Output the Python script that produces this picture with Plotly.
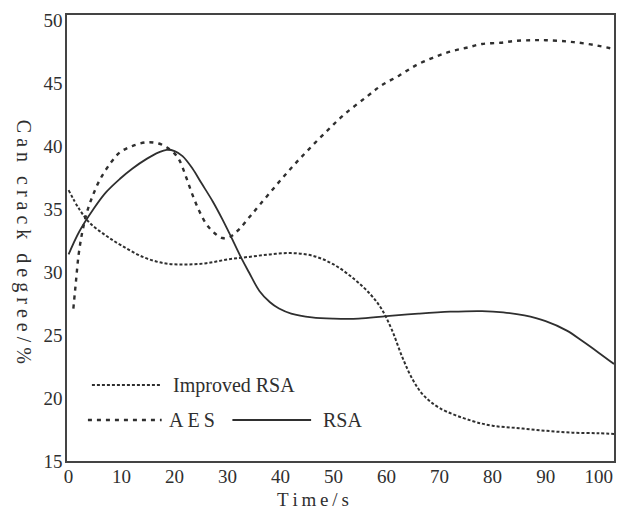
import plotly.graph_objects as go

# ---- data ----
improved_x = [0, 2, 4, 7, 10, 14, 18, 22, 26, 30, 34, 38, 42, 46, 50, 54, 57, 59, 61, 63, 65, 67, 70, 76, 80, 85, 90, 95, 100, 102.9]
improved_y = [36.5, 35.0, 33.9, 32.9, 32.1, 31.2, 30.7, 30.6, 30.7, 31.0, 31.2, 31.4, 31.5, 31.3, 30.6, 29.4, 28.2, 27.1, 25.4, 23.2, 21.4, 20.2, 19.2, 18.2, 17.8, 17.6, 17.4, 17.25, 17.2, 17.15]

rsa_x = [0, 2, 4.7, 7, 9.7, 12, 14.8, 17, 18.5, 20, 21.5, 23.4, 25, 27.2, 29, 30.3, 32.6, 34, 36, 38, 39.7, 42, 45.9, 50, 54.7, 60, 66, 72, 78, 82, 86, 90, 94, 97, 100, 102.9]
rsa_y = [31.4, 33.2, 35.0, 36.3, 37.4, 38.2, 39.0, 39.5, 39.7, 39.6, 39.2, 38.2, 37.1, 35.6, 34.2, 33.1, 31.1, 30.0, 28.5, 27.6, 27.1, 26.7, 26.4, 26.3, 26.3, 26.5, 26.7, 26.85, 26.9, 26.8, 26.55, 26.1, 25.35, 24.5, 23.6, 22.7]

aes_x = [0.9, 1.4, 1.9, 2.6, 3.5, 4.5, 6, 8, 9.7, 12, 14.8, 17, 18.5, 20, 21, 22.2, 23.4, 24.7, 26, 27.5, 29, 30.5, 32.2, 34, 36, 39, 42.1, 45, 48.5, 52, 56.2, 59, 62.4, 65.5, 68.7, 72, 75.1, 78, 81.5, 84.5, 87.6, 90, 94, 98, 102.9]
aes_y = [27.1, 29.3, 31.4, 33.2, 34.8, 36.0, 37.4, 38.7, 39.5, 40.0, 40.3, 40.2, 39.9, 39.4, 38.8, 37.5, 36.1, 34.8, 33.8, 33.1, 32.7, 32.8, 33.4, 34.3, 35.3, 36.8, 38.3, 39.6, 41.1, 42.5, 43.9, 44.8, 45.6, 46.4, 47.0, 47.5, 47.8, 48.1, 48.2, 48.35, 48.4, 48.4, 48.3, 48.1, 47.7]

x_ticks = [0, 10, 20, 30, 40, 50, 60, 70, 80, 90, 100]
y_ticks = [15, 20, 25, 30, 35, 40, 45, 50]

INK = "#2f2f2f"
FONT = "Liberation Serif, Times New Roman, Times, serif"
TS = "\u2009"   # thin space for letter spacing
LS = "\u2005"   # four-per-em space for the y title
WS = "\u2002\u2009"

fig = go.Figure()
fig.add_trace(go.Scatter(x=improved_x, y=improved_y, mode="lines", name="Improved RSA",
                         line=dict(color=INK, width=2, dash="3px,2px", shape="spline", smoothing=1.0)))
fig.add_trace(go.Scatter(x=aes_x, y=aes_y, mode="lines", name="AES",
                         line=dict(color=INK, width=2.4, dash="4px,5px", shape="spline", smoothing=1.0)))
fig.add_trace(go.Scatter(x=rsa_x, y=rsa_y, mode="lines", name="RSA",
                         line=dict(color=INK, width=1.8, shape="spline", smoothing=1.0)))

# legend drawn as shapes + text (paper coordinates)
def px_x(p):
    return (p - 67) / 549.0

def px_y(p):
    return (461 - p) / 446.0

shapes = [
    dict(type="line", xref="paper", yref="paper", x0=px_x(92), x1=px_x(162), y0=px_y(385), y1=px_y(385),
         line=dict(color=INK, width=2, dash="3px,2px")),
    dict(type="line", xref="paper", yref="paper", x0=px_x(88), x1=px_x(162), y0=px_y(420), y1=px_y(420),
         line=dict(color=INK, width=2.4, dash="4px,5px")),
    dict(type="line", xref="paper", yref="paper", x0=px_x(233), x1=px_x(312), y0=px_y(420), y1=px_y(420),
         line=dict(color=INK, width=1.8)),
]
annotations = [
    dict(text="Improved RSA", xref="paper", yref="paper", x=px_x(171), y=px_y(385), xanchor="left", yanchor="middle",
         showarrow=False, font=dict(family=FONT, size=20, color=INK)),
    dict(text=TS.join("AES"), xref="paper", yref="paper", x=px_x(167), y=px_y(420), xanchor="left", yanchor="middle",
         showarrow=False, font=dict(family=FONT, size=20, color=INK)),
    dict(text="RSA", xref="paper", yref="paper", x=px_x(322), y=px_y(420), xanchor="left", yanchor="middle",
         showarrow=False, font=dict(family=FONT, size=20, color=INK)),
    dict(text=TS.join("Time/s"), xref="paper", yref="paper", x=px_x(314), y=px_y(500), xanchor="center", yanchor="middle",
         showarrow=False, font=dict(family=FONT, size=19, color=INK)),
    dict(text=WS.join(LS.join(w) for w in "Can crack degree/%".split(" ")), xref="paper", yref="paper",
         x=px_x(24), y=px_y(242), xanchor="center", yanchor="middle", textangle=90,
         showarrow=False, font=dict(family=FONT, size=20, color=INK)),
]

fig.update_layout(
    width=622, height=515,
    margin=dict(l=67, r=6, t=15, b=54),
    paper_bgcolor="white", plot_bgcolor="white",
    showlegend=False,
    shapes=shapes, annotations=annotations,
    font=dict(family=FONT, size=19, color=INK),
)
fig.update_xaxes(range=[-0.3, 102.9], tickvals=x_ticks, ticktext=[str(v) for v in x_ticks],
                 showgrid=False, zeroline=False, showline=True, mirror=True, linecolor="#444", linewidth=1.6,
                 ticks="", tickfont=dict(family=FONT, size=19, color=INK), ticklabelstandoff=-3)
fig.update_yaxes(range=[15, 50.4], tickvals=y_ticks, ticktext=[str(v) for v in y_ticks],
                 showgrid=False, zeroline=False, showline=True, mirror=True, linecolor="#444", linewidth=1.6,
                 ticks="", tickfont=dict(family=FONT, size=19, color=INK), ticklabelstandoff=-1)

fig.write_html("out.html", config={"displayModeBar": False},
               post_script="document.body.style.margin='0px';")
